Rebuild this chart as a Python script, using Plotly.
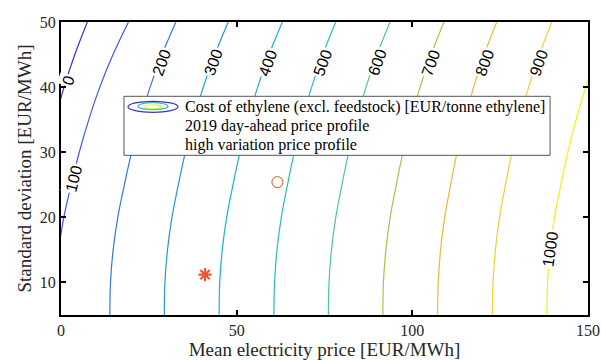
import plotly.graph_objects as go

# ---- data ----
y_std = [5, 10, 15, 20, 25, 30, 35, 40, 45, 50]           # std deviation [EUR/MWh]
levels = [0, 100, 200, 300, 400, 500, 600, 700, 800, 900, 1000]
x_0    = [-9.5, -9.3, -8.65, -7.46, -5.76, -3.89, -1.68, 0.87, 3.93, 7.5]
x_100  = [-1.7, -1.49, -0.66, 0.81, 2.90, 5.20, 7.91, 11.05, 14.81, 19.2]
x_200  = [13.9, 14.09, 14.84, 16.16, 18.04, 20.10, 22.55, 25.37, 28.75, 32.7]
x_300  = [29.4, 29.58, 30.31, 31.58, 33.40, 35.41, 37.77, 40.50, 43.78, 47.6]
x_400  = [45.0, 45.18, 45.90, 47.16, 48.96, 50.94, 53.28, 55.98, 59.22, 63.0]
x_500  = [60.6, 60.78, 61.48, 62.71, 64.47, 66.41, 68.70, 71.34, 74.50, 78.2]
x_600  = [76.1, 76.28, 76.98, 78.21, 79.96, 81.89, 84.17, 86.81, 89.96, 93.65]
x_700  = [91.6, 91.77, 92.47, 93.69, 95.43, 97.34, 99.60, 102.21, 105.35, 109.0]
x_800  = [107.2, 107.37, 108.04, 109.22, 110.90, 112.74, 114.93, 117.45, 120.47, 124.0]
x_900  = [122.8, 122.97, 123.65, 124.83, 126.52, 128.38, 130.57, 133.11, 136.15, 139.7]
x_1000 = [138.3, 138.48, 139.20, 140.47, 142.28, 144.27, 146.63, 149.34, 152.60, 156.4]
contour_x = [x_0, x_100, x_200, x_300, x_400, x_500, x_600, x_700, x_800, x_900, x_1000]
level_colors = ['#4030c8', '#3f56f0', '#2f78f5', '#2196e8', '#18b0d8', '#22c0b8',
                '#4ec98e', '#a0c842', '#f2b63a', '#fccb30', '#f2f014']

label_text  = ['0', '100', '200', '300', '400', '500', '600', '700', '800', '900', '1000']
label_x     = [2.1, 3.6, 28.6, 43.3, 58.9, 74.5, 90.0, 105.3, 120.6, 136.0, 139.3]
label_y     = [41.0, 26.0, 43.8, 43.8, 43.8, 43.8, 43.8, 43.8, 43.8, 43.8, 15.2]
label_angle = [-70, -76, -70, -70, -70, -70, -70, -70, -70, -71, -82]

pt_2019 = ([41.0], [11.2])
pt_high = ([61.6], [25.4])

legend_texts = ['Cost of ethylene (excl. feedstock) [EUR/tonne ethylene]',
                '2019 day-ahead price profile',
                'high variation price profile']

SERIF = 'Liberation Serif'
SANS = 'Liberation Sans'

fig = go.Figure()

for lev, xs, col in zip(levels, contour_x, level_colors):
    fig.add_trace(go.Scatter(x=xs, y=y_std, mode='lines', line=dict(color=col, width=1.2, shape='spline'),
                             showlegend=False, hoverinfo='skip'))

fig.add_trace(go.Scatter(x=pt_2019[0], y=pt_2019[1], mode='markers',
                         marker=dict(symbol='asterisk-open', size=11, line=dict(color='#ff0000', width=2.2)),
                         showlegend=False))
fig.add_trace(go.Scatter(x=pt_high[0], y=pt_high[1], mode='markers',
                         marker=dict(symbol='circle-open', size=11, color='#D95319', line=dict(color='#D95319', width=1)),
                         showlegend=False))

for t, lx, ly, ang in zip(label_text, label_x, label_y, label_angle):
    fig.add_annotation(x=lx, y=ly, xref='x', yref='y', text=t, showarrow=False, textangle=ang,
                       font=dict(family=SANS, size=16, color='black'), bgcolor='white', borderpad=1)

# ---- custom legend (paper coordinates) ----
fig.add_shape(type='rect', xref='paper', yref='paper', x0=0.1195, x1=0.928, y0=0.545, y1=0.7464,
              line=dict(color='#555555', width=1), fillcolor='white', layer='above')
fig.add_shape(type='circle', xref='paper', yref='paper', x0=0.1271, x1=0.222, y0=0.6918, y1=0.7294,
              line=dict(color='#3f2fc8', width=1.2), layer='above')
fig.add_shape(type='circle', xref='paper', yref='paper', x0=0.146, x1=0.203, y0=0.7006, y1=0.7246,
              line=dict(color='#20c0c0', width=1.2), layer='above')
fig.add_shape(type='circle', xref='paper', yref='paper', x0=0.1594, x1=0.1898, y0=0.7039, y1=0.7176,
              line=dict(color='#f0f000', width=1.2), layer='above')
fig.add_trace(go.Scatter(x=[0.1746], y=[0.6444], xaxis='x2', yaxis='y2', mode='markers',
                         marker=dict(symbol='asterisk-open', size=11, line=dict(color='#ff0000', width=2.2)),
                         showlegend=False, hoverinfo='skip'))
fig.add_trace(go.Scatter(x=[0.1746], y=[0.5795], xaxis='x2', yaxis='y2', mode='markers',
                         marker=dict(symbol='circle-open', size=11, color='#D95319', line=dict(color='#D95319', width=1)),
                         showlegend=False, hoverinfo='skip'))
for t, ty in zip(legend_texts, [0.7099, 0.6440, 0.5792]):
    fig.add_annotation(x=0.2309, y=ty, xref='paper', yref='paper', text=t, showarrow=False,
                       xanchor='left', yanchor='middle', font=dict(family=SERIF, size=16, color='black'))

axis_common = dict(showgrid=False, zeroline=False, showline=True, linecolor='black', linewidth=2,
                   mirror='ticks', ticks='inside', ticklen=5, tickwidth=2, tickcolor='black',
                   automargin=False,
                   tickfont=dict(family=SERIF, size=16, color='#262626'))
fig.update_layout(
    width=601, height=360,
    margin=dict(l=61, r=13, t=22, b=45),
    paper_bgcolor='white', plot_bgcolor='white',
    xaxis=dict(range=[0, 150], tickvals=[0, 50, 100, 150],
               title=dict(text='Mean electricity price [EUR/MWh]', font=dict(family=SERIF, size=19, color='#262626'), standoff=3),
               **axis_common),
    yaxis=dict(range=[5, 50], tickvals=[10, 20, 30, 40, 50],
               title=dict(text='Standard deviation [EUR/MWh]', font=dict(family=SERIF, size=19, color='#262626'), standoff=3),
               **axis_common),
    xaxis2=dict(range=[0, 1], overlaying='x', visible=False, fixedrange=True),
    yaxis2=dict(range=[0, 1], overlaying='y', visible=False, fixedrange=True),
)

fig.write_html('out.html')
